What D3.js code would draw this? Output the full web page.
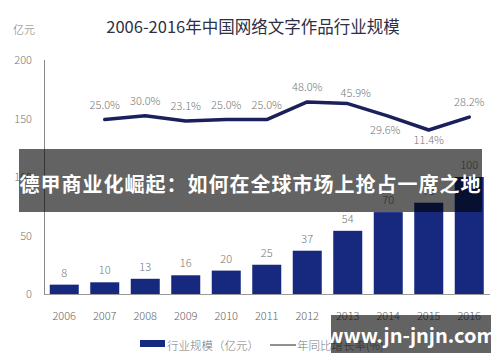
<!DOCTYPE html>
<html lang="zh">
<head>
<meta charset="utf-8">
<title>2006-2016年中国网络文字作品行业规模</title>
<script src="https://cdn.jsdelivr.net/npm/d3@7/dist/d3.min.js"></script>
<style>
  body { margin: 0; background: #fff; }
  svg { display: block; font-family: "Noto Sans CJK SC", "Noto Sans", sans-serif; }
</style>
</head>
<body>
<script>

// data
var years = ["2006", "2007", "2008", "2009", "2010", "2011", "2012", "2013", "2014", "2015", "2016"];
var scale = [8, 10, 13, 16, 20, 25, 37, 54, 70, 78, 100];
var growthYears = ["2007", "2008", "2009", "2010", "2011", "2012", "2013", "2014", "2015", "2016"];
var growth = [25.0, 30.0, 23.1, 25.0, 25.0, 48.0, 45.9, 29.6, 11.4, 28.2];
var yTicks = [0, 50, 100, 150, 200];

var title = "2006-2016年中国网络文字作品行业规模";
var unit = "亿元";
var legendBar = "行业规模（亿元）";
var legendLine = "年同比增长率(%)";
var banner = "德甲商业化崛起：如何在全球市场上抢占一席之地";
var watermark = "www.jn-jnjn.com";

var width = 500, height = 362;
var navy = "#16297f";
var lineColor = "#1b1f5c";
var gray = "#777";

var svg = d3.select("body").append("svg")
            .attr("width", width)
            .attr("height", height);

var x = d3.scaleBand().domain(years).range([44, 489.5]).paddingInner(0.284).paddingOuter(0.142);
var y = d3.scaleLinear().domain([0, 200]).range([294, 60]);
// the growth line sits on its own hidden scale
var yPct = d3.scaleLinear().domain([0, 100]).range([138.7, 62.2]);

// title + unit
svg.append("text")
   .attr("x", 253).attr("y", 33)
   .attr("text-anchor", "middle")
   .attr("font-size", 16.5)
   .attr("fill", "#2e2f45")
   .text(title);

svg.append("text")
   .attr("x", 13).attr("y", 34)
   .attr("font-size", 11)
   .attr("font-weight", 300)
   .attr("fill", gray)
   .text(unit);

// y tick labels
svg.selectAll("text.ytick")
   .data(yTicks)
   .enter().append("text")
   .attr("class", "ytick")
   .attr("x", 32)
   .attr("y", function(d) { return y(d) + 4; })
   .attr("text-anchor", "end")
   .attr("font-size", 11)
   .attr("font-weight", 300)
   .attr("fill", gray)
   .text(function(d) { return d; });

// axes lines
svg.append("line")
   .attr("x1", 44.5).attr("x2", 44.5)
   .attr("y1", y(200)).attr("y2", y(0))
   .attr("stroke", "#8a8a8a").attr("stroke-width", 1);

svg.append("line")
   .attr("x1", 44).attr("x2", 490)
   .attr("y1", y(0) + 0.5).attr("y2", y(0) + 0.5)
   .attr("stroke", "#9a9a9a").attr("stroke-width", 1);

// bars
svg.selectAll("rect.bar")
   .data(scale)
   .enter().append("rect")
   .attr("class", "bar")
   .attr("x", function(d, i) { return x(years[i]); })
   .attr("y", function(d) { return y(d); })
   .attr("width", x.bandwidth())
   .attr("height", function(d) { return y(0) - y(d); })
   .attr("fill", navy);

svg.selectAll("text.barlabel")
   .data(scale)
   .enter().append("text")
   .attr("class", "barlabel")
   .attr("x", function(d, i) { return x(years[i]) + x.bandwidth() / 2; })
   .attr("y", function(d) { return y(d) - 8; })
   .attr("text-anchor", "middle")
   .attr("font-size", 11)
   .attr("font-weight", 300)
   .attr("fill", gray)
   .text(function(d) { return d; });

// x labels
svg.selectAll("text.xlabel")
   .data(years)
   .enter().append("text")
   .attr("class", "xlabel")
   .attr("x", function(d) { return x(d) + x.bandwidth() / 2; })
   .attr("y", 320)
   .attr("text-anchor", "middle")
   .attr("font-size", 11)
   .attr("font-weight", 300)
   .attr("fill", "#666")
   .text(function(d) { return d; });

// growth line
var line = d3.line()
             .x(function(d, i) { return x(growthYears[i]) + x.bandwidth() / 2; })
             .y(function(d) { return yPct(d); });

svg.append("path")
   .datum(growth)
   .attr("d", line)
   .attr("fill", "none")
   .attr("stroke", lineColor)
   .attr("stroke-width", 3.5)
   .attr("stroke-linejoin", "round")
   .attr("stroke-linecap", "round");

// labels of the dip years go under the line
var below = [7, 8];
svg.selectAll("text.pct")
   .data(growth)
   .enter().append("text")
   .attr("class", "pct")
   .attr("x", function(d, i) {
     var cx = x(growthYears[i]) + x.bandwidth() / 2;
     if (i == 6) cx += 8;
     if (i == 7) cx -= 3;
     return cx;
   })
   .attr("y", function(d, i) {
     if (below.indexOf(i) >= 0) return yPct(d) + (i == 7 ? 18 : 14);
     return yPct(d) - (i == 6 ? 7 : 11);
   })
   .attr("text-anchor", "middle")
   .attr("font-size", 11)
   .attr("font-weight", 300)
   .attr("fill", gray)
   .text(function(d) { return d.toFixed(1) + "%"; });

// legend
svg.append("rect")
   .attr("x", 140).attr("y", 340)
   .attr("width", 25).attr("height", 7)
   .attr("fill", navy);
svg.append("text")
   .attr("x", 167).attr("y", 350)
   .attr("font-size", 11.5)
   .attr("font-weight", 300)
   .attr("fill", gray)
   .text(legendBar);
svg.append("line")
   .attr("x1", 270).attr("x2", 296)
   .attr("y1", 345).attr("y2", 345)
   .attr("stroke", "#222").attr("stroke-width", 1);
svg.append("text")
   .attr("x", 297).attr("y", 350)
   .attr("font-size", 11.5)
   .attr("font-weight", 300)
   .attr("fill", gray)
   .text(legendLine);

// overlay banner across the chart
svg.append("rect")
   .attr("x", 19).attr("y", 149)
   .attr("width", 463).attr("height", 63)
   .attr("fill", "rgba(0,0,0,0.61)");
svg.append("text")
   .attr("x", 250).attr("y", 192)
   .attr("text-anchor", "middle")
   .attr("font-size", 20)
   .attr("font-weight", "bold")
   .attr("fill", "#fff")
   .attr("textLength", 461)
   .text(banner);

// watermark
svg.append("rect")
   .attr("x", 331).attr("y", 315)
   .attr("width", 160).attr("height", 38)
   .attr("fill", "rgba(0,0,0,0.61)");
svg.append("text")
   .attr("x", 411).attr("y", 343)
   .attr("text-anchor", "middle")
   .attr("font-size", 20)
   .attr("font-weight", "bold")
   .attr("fill", "#fff")
   .text(watermark);

</script>
</body>
</html>
